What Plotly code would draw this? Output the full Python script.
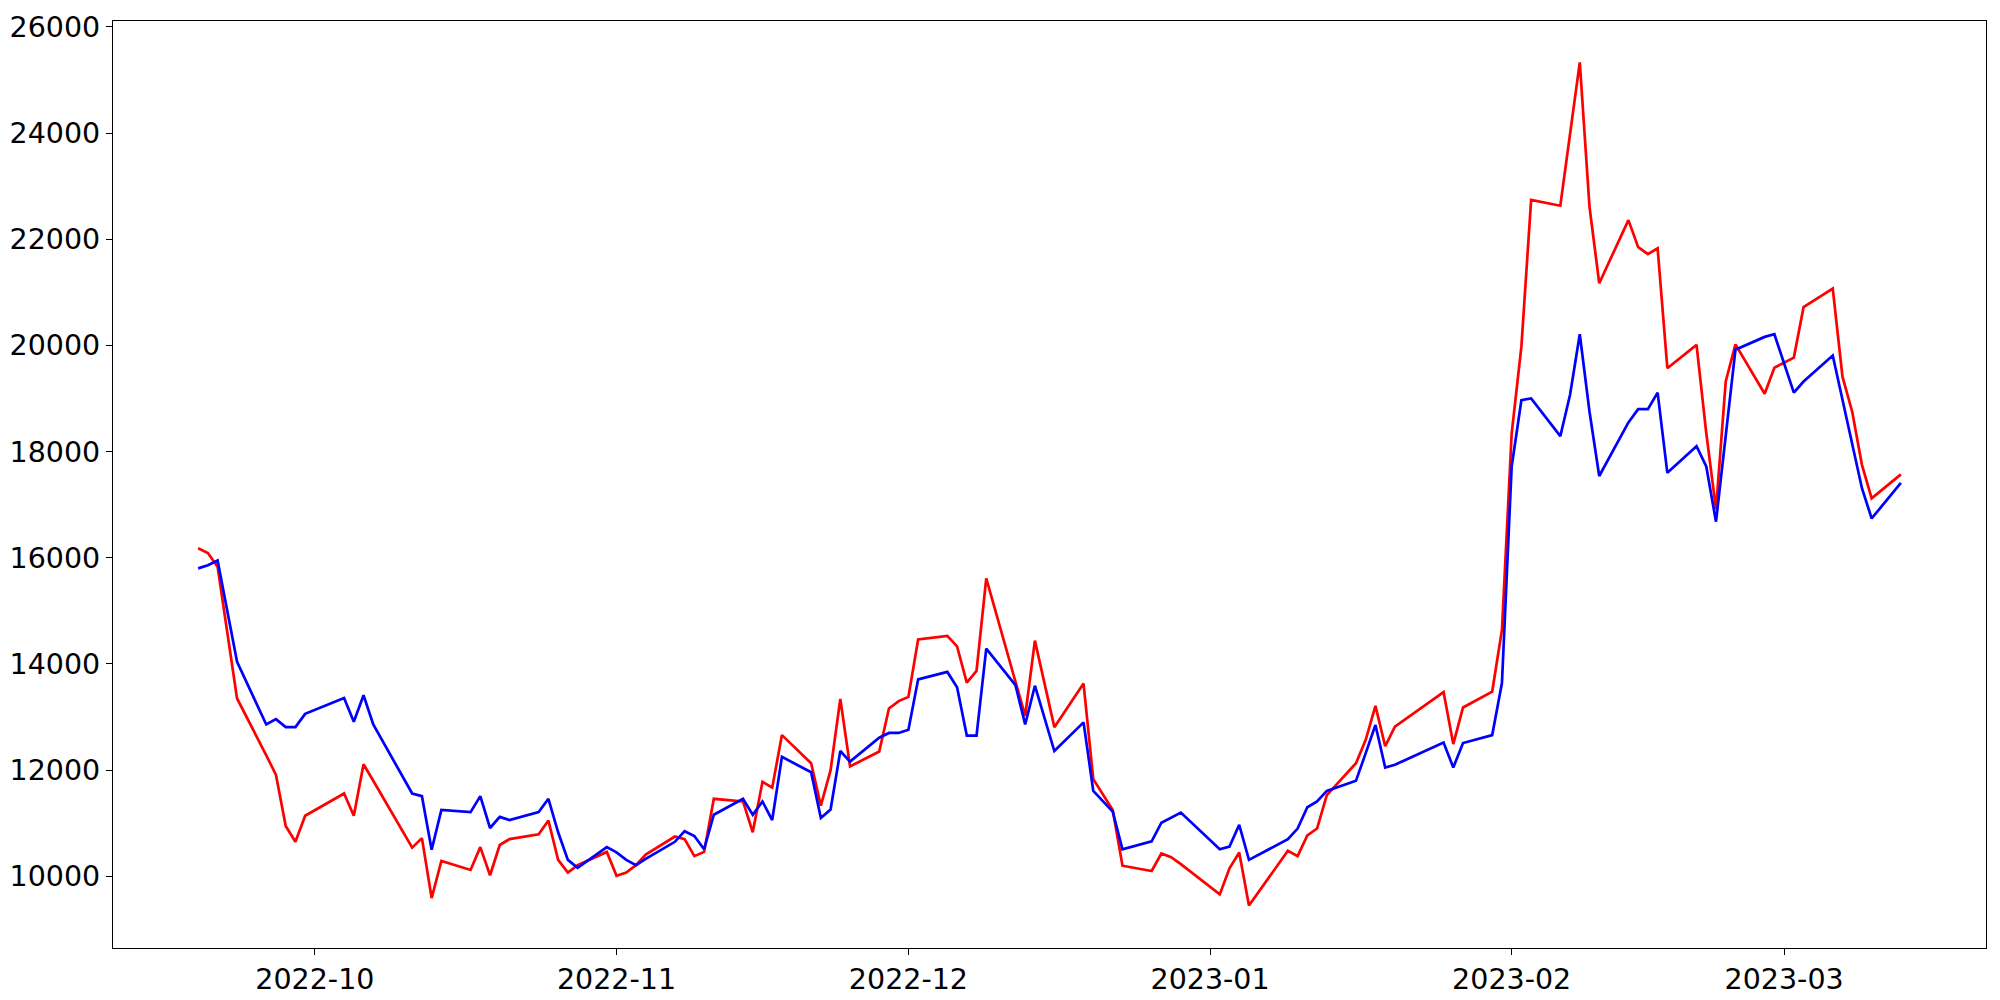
import plotly.graph_objects as go

dates = [
    "2022-09-19", "2022-09-20", "2022-09-21", "2022-09-23", "2022-09-26", "2022-09-27",
    "2022-09-28", "2022-09-29", "2022-09-30", "2022-10-04", "2022-10-05", "2022-10-06",
    "2022-10-07", "2022-10-11", "2022-10-12", "2022-10-13", "2022-10-14", "2022-10-17",
    "2022-10-18", "2022-10-19", "2022-10-20", "2022-10-21", "2022-10-24", "2022-10-25",
    "2022-10-26", "2022-10-27", "2022-10-28", "2022-10-31", "2022-11-01", "2022-11-02",
    "2022-11-03", "2022-11-04", "2022-11-07", "2022-11-08", "2022-11-09", "2022-11-10",
    "2022-11-11", "2022-11-14", "2022-11-15", "2022-11-16", "2022-11-17", "2022-11-18",
    "2022-11-21", "2022-11-22", "2022-11-23", "2022-11-24", "2022-11-25", "2022-11-28",
    "2022-11-29", "2022-11-30", "2022-12-01", "2022-12-02", "2022-12-05", "2022-12-06",
    "2022-12-07", "2022-12-08", "2022-12-09", "2022-12-12", "2022-12-13", "2022-12-14",
    "2022-12-16", "2022-12-19", "2022-12-20", "2022-12-22", "2022-12-23", "2022-12-26",
    "2022-12-27", "2022-12-28", "2022-12-29", "2023-01-02", "2023-01-03", "2023-01-04",
    "2023-01-05", "2023-01-09", "2023-01-10", "2023-01-11", "2023-01-12", "2023-01-13",
    "2023-01-16", "2023-01-17", "2023-01-18", "2023-01-19", "2023-01-20", "2023-01-25",
    "2023-01-26", "2023-01-27", "2023-01-30", "2023-01-31", "2023-02-01", "2023-02-02",
    "2023-02-03", "2023-02-06", "2023-02-07", "2023-02-08", "2023-02-09", "2023-02-10",
    "2023-02-13", "2023-02-14", "2023-02-15", "2023-02-16", "2023-02-17", "2023-02-20",
    "2023-02-21", "2023-02-22", "2023-02-23", "2023-02-24", "2023-02-27", "2023-02-28",
    "2023-03-02", "2023-03-03", "2023-03-06", "2023-03-07", "2023-03-08", "2023-03-09",
    "2023-03-10", "2023-03-13",
]

red_values = [
    16180, 16090, 15830, 13350, 12280, 11910,
    10950, 10650, 11140, 11560, 11140, 12110,
    11800, 10540, 10720, 9590, 10290, 10120,
    10550, 10020, 10590, 10700, 10790, 11050,
    10310, 10070, 10210, 10460, 10010, 10070,
    10210, 10410, 10750, 10700, 10380, 10460,
    11460, 11410, 10830, 11780, 11670, 12660,
    12130, 11330, 12000, 13340, 12070, 12350,
    13160, 13300, 13380, 14460, 14530, 14330,
    13650, 13870, 15610, 13650, 13020, 14440,
    12810, 13630, 11830, 11250, 10200, 10100,
    10430, 10360, 10230, 9660, 10150, 10450,
    9450, 10480, 10380, 10770, 10900, 11530,
    12130, 12570, 13210, 12450, 12820, 13470,
    12490, 13180, 13480, 14640, 18340, 19980,
    22740, 22630, 23930, 25330, 22610, 21170,
    22360, 21850, 21720, 21830, 19570, 20010,
    18350, 16910, 19320, 20020, 19090, 19580,
    19770, 20720, 21070, 19410, 18750, 17750,
    17120, 17570,
]

blue_values = [
    15800, 15860, 15950, 14040, 12860, 12960,
    12810, 12810, 13060, 13360, 12910, 13410,
    12860, 11560, 11510, 10500, 11250, 11210,
    11510, 10910, 11120, 11060, 11210, 11460,
    10830, 10310, 10160, 10550, 10450, 10310,
    10210, 10330, 10650, 10850, 10760, 10510,
    11160, 11460, 11160, 11410, 11060, 12250,
    11960, 11100, 11260, 12360, 12160, 12610,
    12700, 12700, 12760, 13710, 13850, 13560,
    12650, 12650, 14290, 13600, 12860, 13590,
    12360, 12900, 11610, 11220, 10510, 10660,
    11010, 11100, 11200, 10510, 10560, 10970,
    10310, 10700, 10900, 11300, 11410, 11610,
    11800, 12320, 12850, 12050, 12100, 12520,
    12050, 12510, 12660, 13640, 17720, 18970,
    19000, 18290, 19070, 20210, 18750, 17540,
    18550, 18800, 18800, 19110, 17600, 18100,
    17720, 16680, 18300, 19920, 20160, 20210,
    19110, 19320, 19810, 18970, 18090, 17310,
    16740, 17410,
]

x_tick_vals = ["2022-10-01", "2022-11-01", "2022-12-01", "2023-01-01", "2023-02-01", "2023-03-01"]
x_tick_text = ["2022-10", "2022-11", "2022-12", "2023-01", "2023-02", "2023-03"]
y_tick_vals = [10000, 12000, 14000, 16000, 18000, 20000, 22000, 24000, 26000]

fig = go.Figure()
fig.add_trace(go.Scatter(x=dates, y=red_values, mode="lines",
                         line=dict(color="#ff0000", width=2.7), showlegend=False))
fig.add_trace(go.Scatter(x=dates, y=blue_values, mode="lines",
                         line=dict(color="#0000ff", width=2.7), showlegend=False))

font = dict(family="DejaVu Sans", size=28.5, color="black")
axis_common = dict(showline=True, mirror=True, linecolor="black", linewidth=1.2,
                   ticks="outside", ticklen=6, tickwidth=1.2, tickcolor="black",
                   showgrid=False, zeroline=False, tickfont=font, automargin=False)

# the page body adds an 8px offset, so margins are shifted to compensate
fig.update_layout(
    width=2000, height=1000,
    margin=dict(l=105, r=22, t=13, b=60),
    paper_bgcolor="white", plot_bgcolor="white",
    font=font,
    xaxis=dict(type="date", range=["2022-09-10 06:00", "2023-03-21 18:00"],
               tickvals=x_tick_vals, ticktext=x_tick_text, **axis_common),
    yaxis=dict(range=[8650, 26110], tickvals=y_tick_vals,
               ticktext=[str(v) for v in y_tick_vals], **axis_common),
)

fig.write_html("out.html")
